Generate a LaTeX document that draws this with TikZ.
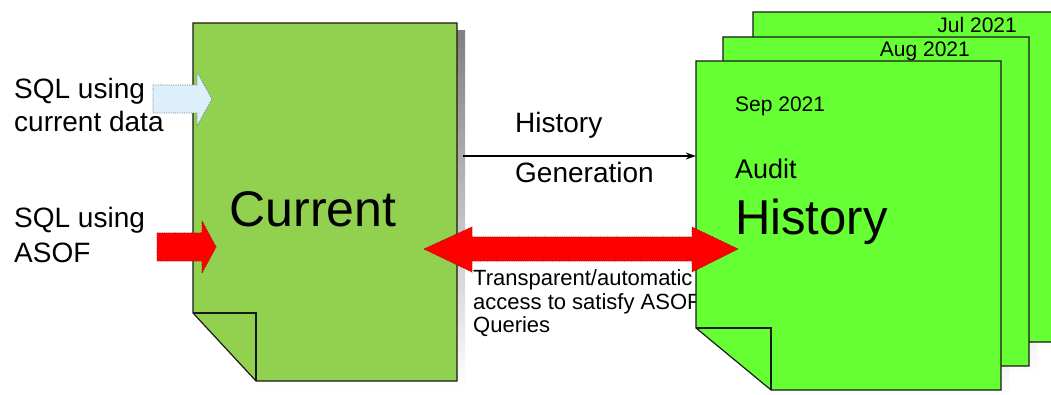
\documentclass[tikz,border=0pt]{standalone}
\usepackage{fontspec}
\setmainfont{Liberation Sans}
\usetikzlibrary{arrows.meta,fit}

\definecolor{curgreen}{HTML}{92D050}
\definecolor{histgreen}{HTML}{66FF33}
\definecolor{shade}{HTML}{808080}
\definecolor{iceblue}{HTML}{DDEFFA}
\definecolor{iceedge}{HTML}{5F7F90}
\definecolor{asofred}{HTML}{FF0000}
\definecolor{asofedge}{HTML}{B00000}

\tikzset{
  sheet/.style={draw=black!90, line width=1.2pt, line join=miter},
  lbl/.style={inner sep=0pt, anchor=base west},
  lble/.style={inner sep=0pt, anchor=base east},
  area/.style={inner sep=0pt, draw=none},
  blockarrow/.style={line width=0.8pt, densely dotted},
}

% shadow of a sheet: left, top, right, bottom, fold dx
\newcommand\sheetshadow[5]{%
  \fill[shade] (#1+#5,#2+8) rectangle (#3+8,#4+8);}
% sheet with folded lower-left corner: left, top, right, bottom, fold dx, fold dy, fill
\newcommand\docsheet[7]{%
  \draw[sheet, fill=#7] (#1,#2) -- (#3,#2) -- (#3,#4) -- (#1+#5,#4) -- (#1,#4-#6) -- cycle;
  \draw[sheet] (#1,#4-#6) -- (#1+#5,#4-#6) -- (#1+#5,#4);}

\begin{document}
\begin{tikzpicture}[x=1pt, y=-1pt]
  \useasboundingbox (0,0) rectangle (1051,395);
  \clip (0,0) rectangle (1051,395);

  % ---- current data sheet ----
  \sheetshadow{193}{23}{457}{381}{63}
  \docsheet{193}{23}{457}{381}{63}{68}{curgreen}
  \node[area, fit={(193,23) (457,381)}] (current) {};
  \node[inner sep=0pt, anchor=base] at (313,227) {\fontsize{50}{50}\selectfont Current};

  % ---- queries entering the current sheet ----
  \node[lbl] at (14,99)  {\fontsize{28}{28}\selectfont SQL using};
  \node[lbl] at (14,132) {\fontsize{28}{28}\selectfont current data};
  \node[lbl] at (14,228) {\fontsize{28}{28}\selectfont SQL using};
  \node[lbl] at (14,262) {\fontsize{28}{28}\selectfont ASOF};

  \draw[blockarrow, draw=iceedge, fill=iceblue]
    (153,85) -- (197,85) -- (197,72) -- (212,99) -- (197,126) -- (197,113) -- (153,113) -- cycle;
  \draw[blockarrow, draw=asofedge, fill=asofred]
    (157,233) -- (202,233) -- (202,221) -- (216,247) -- (202,273) -- (202,261) -- (157,261) -- cycle;

  % ---- labels between the sheets ----
  \node[lbl] at (515,133) {\fontsize{28}{28}\selectfont History};
  \node[lbl] at (515,183) {\fontsize{28}{28}\selectfont Generation};
  \node[lbl] at (473,285) {\fontsize{22}{22}\selectfont Transparent/automatic};
  \node[lbl] at (473,309) {\fontsize{22}{22}\selectfont access to satisfy ASOF};
  \node[lbl] at (473,332) {\fontsize{22}{22}\selectfont Queries};

  % ---- stack of history sheets ----
  \sheetshadow{753}{12}{1065}{342}{75}
  \sheetshadow{723}{37}{1029}{366}{75}
  \sheetshadow{696}{61}{1001}{390}{75}
  \docsheet{753}{12}{1065}{342}{75}{62}{histgreen}
  \node[lble] at (1017,33) {\fontsize{21}{21}\selectfont Jul 2021};
  \docsheet{723}{37}{1029}{366}{75}{62}{histgreen}
  \node[lble] at (970,57) {\fontsize{21}{21}\selectfont Aug 2021};
  \docsheet{696}{61}{1001}{390}{75}{62}{histgreen}
  \node[area, fit={(696,61) (1001,390)}] (history) {};
  \node[lbl] at (735,112) {\fontsize{21}{21}\selectfont Sep 2021};
  \node[lbl] at (735,179) {\fontsize{27}{27}\selectfont Audit};
  \node[lbl] at (735,235) {\fontsize{49}{49}\selectfont History};

  % ---- history generation connector ----
  \coordinate (hgstart) at (463,156);
  \draw[line width=1.1pt, -{Stealth[length=10pt, width=7pt]}] (hgstart) -- (history.west |- hgstart);

  % ---- two-way ASOF access arrow ----
  \draw[blockarrow, draw=asofedge, fill=asofred]
    (424,249) -- (472,227) -- (472,237) -- (692,237) -- (692,227) -- (738,249)
    -- (692,272) -- (692,261) -- (472,261) -- (472,272) -- cycle;
\end{tikzpicture}
\end{document}
